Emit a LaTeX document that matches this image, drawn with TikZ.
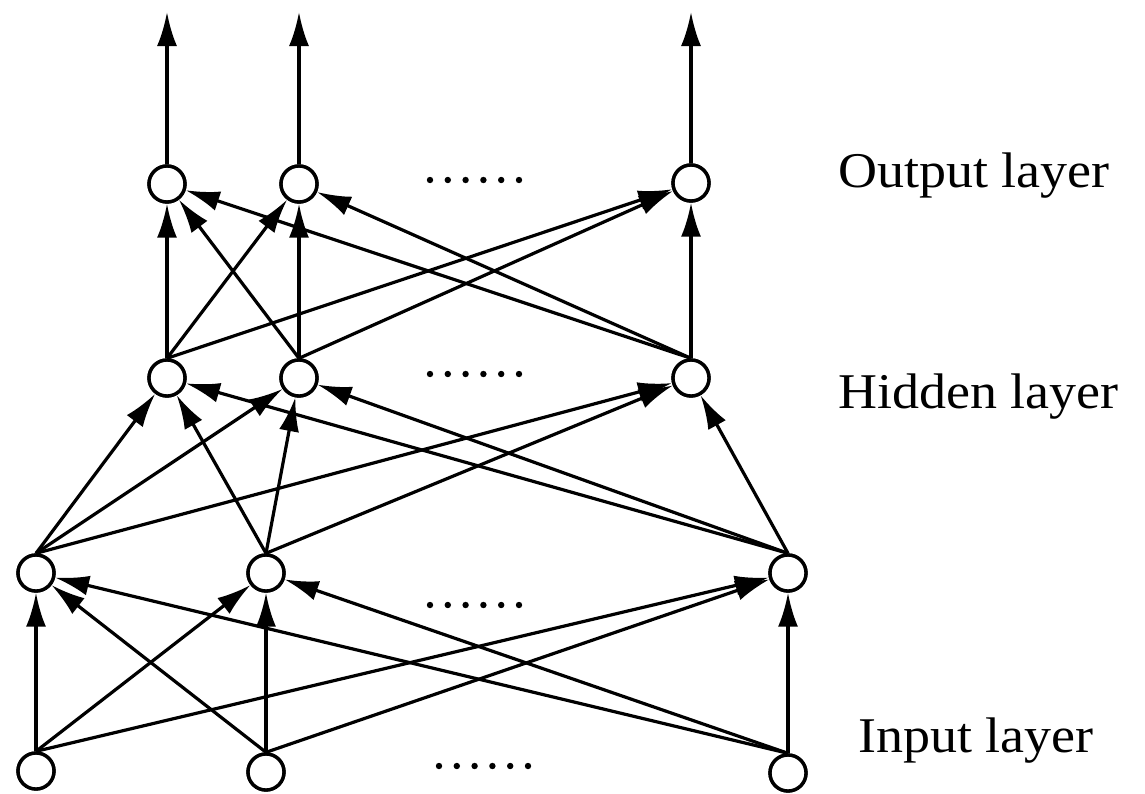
\documentclass[tikz,border=0pt]{standalone}
\usepackage{fontspec}
\setmainfont{Liberation Serif}[FakeStretch=1.08]
\usetikzlibrary{arrows.meta}
\begin{document}
\begin{tikzpicture}[x=1pt,y=-1pt,
  neuron/.style={circle,draw,line width=3.4pt,minimum size=36pt,inner sep=0pt,fill=white},
  conn/.style={line width=3.2pt,-{Latex[length=34pt,width=20pt]}},
  lbl/.style={font=\fontsize{50}{60}\selectfont,inner sep=0pt,anchor=base west},
  dotf/.style={fill=black}]
\useasboundingbox (0,0) rectangle (1145,793);
% nodes
\node[neuron] (i1) at (36,771) {};
\node[neuron] (i2) at (266,772) {};
\node[neuron] (i3) at (788,773) {};
\node[neuron] (m1) at (36,573) {};
\node[neuron] (m2) at (266,573) {};
\node[neuron] (m3) at (788,573) {};
\node[neuron] (h1) at (167,378) {};
\node[neuron] (h2) at (299,378) {};
\node[neuron] (h3) at (691,378) {};
\node[neuron] (o1) at (167,184) {};
\node[neuron] (o2) at (299,184) {};
\node[neuron] (o3) at (691,183) {};
\coordinate (t1) at (167,12);
\coordinate (t2) at (299,12);
\coordinate (t3) at (691,12);
% connections
\foreach \s in {i1,i2,i3}{\foreach \d in {m1,m2,m3}{\draw[conn] (\s.north) -- (\d);}}
\foreach \s in {m1,m2,m3}{\foreach \d in {h1,h2,h3}{\draw[conn] (\s.north) -- (\d);}}
\foreach \s in {h1,h2,h3}{\foreach \d in {o1,o2,o3}{\draw[conn] (\s.north) -- (\d);}}
\draw[conn] (o1.north) -- (t1);
\draw[conn] (o2.north) -- (t2);
\draw[conn] (o3.north) -- (t3);
% redraw nodes on top
\foreach \n in {i1,i2,i3,m1,m2,m3,h1,h2,h3,o1,o2,o3}{\draw[line width=3.4pt,fill=white] (\n) circle (18pt);}
% dots
\foreach \k in {0,...,5}{
  \fill[dotf] (430+17.8*\k,180) circle (3.2pt);
  \fill[dotf] (430+17.8*\k,374) circle (3.2pt);
  \fill[dotf] (430+17.8*\k,605) circle (3.2pt);
  \fill[dotf] (439+17.8*\k,766) circle (3.2pt);
}
% labels
\node[lbl] (lo) at (838,187) {Output layer};
\node[lbl] (lh) at (838,408) {Hidden layer};
\node[lbl] (li) at (858,752) {Input layer};
\end{tikzpicture}
\end{document}
